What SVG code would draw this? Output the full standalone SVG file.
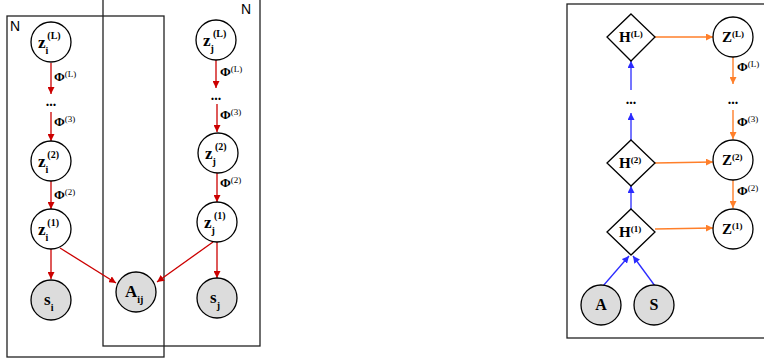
<svg xmlns="http://www.w3.org/2000/svg" width="764" height="362" viewBox="0 0 764 362">
  <style>
    .plate { fill: none; stroke: #222; stroke-width: 1.3; }
    .node { fill: #fff; stroke: #000; stroke-width: 1.3; }
    .obs { fill: #dcdcdc; stroke: #000; stroke-width: 1.3; }
    .lbl { font-family: "Liberation Serif", "DejaVu Serif", serif; font-weight: bold; fill: #000; }
    .plateN { font-family: "Liberation Sans", Arial, sans-serif; font-size: 14px; fill: #000; }
    .red { stroke: #cc0000; stroke-width: 1.3; fill: none; }
    .orange { stroke: #ff7f2a; stroke-width: 1.4; fill: none; }
    .blue { stroke: #2b2bff; stroke-width: 1.3; fill: none; }
    .phi { font-family: "Liberation Serif", "DejaVu Serif", serif; font-size: 13px; font-weight: bold; fill: #000; }
    .sup { font-size: 9px; font-weight: normal; }
    .dots { font-family: "Liberation Serif", serif; font-size: 14px; font-weight: bold; fill: #000; }
  </style>
  <defs>
    <marker id="arR" viewBox="0 0 10 10" refX="10" refY="5" markerWidth="7" markerHeight="7" orient="auto" markerUnits="userSpaceOnUse">
      <path d="M0,0 L10,5 L0,10 z" fill="#cc0000"/>
    </marker>
    <marker id="arO" viewBox="0 0 10 10" refX="10" refY="5" markerWidth="7" markerHeight="7" orient="auto" markerUnits="userSpaceOnUse">
      <path d="M0,0 L10,5 L0,10 z" fill="#ff7f2a"/>
    </marker>
    <marker id="arB" viewBox="0 0 10 10" refX="10" refY="5" markerWidth="7" markerHeight="7" orient="auto" markerUnits="userSpaceOnUse">
      <path d="M0,0 L10,5 L0,10 z" fill="#2b2bff"/>
    </marker>
  </defs>

  <!-- plates -->
  <g id="plate-i">
    <rect class="plate" x="7" y="16" width="157" height="341"/>
    <text class="plateN" x="10" y="31">N</text>
  </g>
  <g id="plate-j">
    <rect class="plate" x="103" y="-2" width="157" height="348"/>
    <text class="plateN" x="241" y="14">N</text>
  </g>
  <g id="plate-right">
    <rect class="plate" x="567" y="4" width="210" height="334"/>
  </g>

  <!-- connectors -->
  <g id="connectors">
    <line class="red" x1="51" y1="63" x2="51" y2="94" marker-end="url(#arR)"/>
    <line class="red" x1="51" y1="112" x2="51" y2="141" marker-end="url(#arR)"/>
    <line class="red" x1="51" y1="181" x2="51" y2="209" marker-end="url(#arR)"/>
    <line class="red" x1="51" y1="249" x2="51" y2="279" marker-end="url(#arR)"/>
    <line class="red" x1="60" y1="248" x2="116" y2="283" marker-end="url(#arR)"/>
    <line class="red" x1="216" y1="60" x2="216" y2="88" marker-end="url(#arR)"/>
    <line class="red" x1="217" y1="104" x2="217" y2="132" marker-end="url(#arR)"/>
    <line class="red" x1="217" y1="173" x2="217" y2="202" marker-end="url(#arR)"/>
    <line class="red" x1="217" y1="242" x2="217" y2="278" marker-end="url(#arR)"/>
    <line class="red" x1="213" y1="242" x2="157" y2="282" marker-end="url(#arR)"/>

    <line class="orange" x1="655" y1="37" x2="713" y2="37" marker-end="url(#arO)"/>
    <line class="orange" x1="733" y1="57" x2="733" y2="84" marker-end="url(#arO)"/>
    <line class="orange" x1="733" y1="110" x2="733" y2="139" marker-end="url(#arO)"/>
    <line class="orange" x1="655" y1="163" x2="713" y2="162" marker-end="url(#arO)"/>
    <line class="orange" x1="733" y1="180" x2="733" y2="208" marker-end="url(#arO)"/>
    <line class="orange" x1="655" y1="229" x2="713" y2="228" marker-end="url(#arO)"/>

    <line class="blue" x1="631" y1="90" x2="631" y2="61" marker-end="url(#arB)"/>
    <line class="blue" x1="631" y1="140" x2="631" y2="113" marker-end="url(#arB)"/>
    <line class="blue" x1="631" y1="209" x2="631" y2="186" marker-end="url(#arB)"/>
    <line class="blue" x1="603" y1="286" x2="629" y2="256" marker-end="url(#arB)" stroke-width="1"/>
    <line class="blue" x1="655" y1="286" x2="633" y2="256" marker-end="url(#arB)" stroke-width="1"/>

    <!-- edge labels -->
    <text class="phi" x="54" y="81">Φ<tspan class="sup" dy="-4">(L)</tspan></text>
    <text class="phi" x="54" y="126">Φ<tspan class="sup" dy="-4">(3)</tspan></text>
    <text class="phi" x="54" y="199">Φ<tspan class="sup" dy="-4">(2)</tspan></text>
    <text class="phi" x="220" y="76">Φ<tspan class="sup" dy="-4">(L)</tspan></text>
    <text class="phi" x="220" y="119">Φ<tspan class="sup" dy="-4">(3)</tspan></text>
    <text class="phi" x="220" y="187">Φ<tspan class="sup" dy="-4">(2)</tspan></text>
    <text class="phi" x="737" y="71">Φ<tspan class="sup" dy="-4">(L)</tspan></text>
    <text class="phi" x="737" y="126">Φ<tspan class="sup" dy="-4">(3)</tspan></text>
    <text class="phi" x="737" y="195">Φ<tspan class="sup" dy="-4">(2)</tspan></text>
    <text class="dots" x="51" y="106" text-anchor="middle">...</text>
    <text class="dots" x="216" y="100" text-anchor="middle">...</text>
    <text class="dots" x="631" y="104" text-anchor="middle">...</text>
    <text class="dots" x="733" y="104" text-anchor="middle">...</text>
  </g>

  <!-- left model nodes -->
  <g id="zi-L">
    <circle class="node" cx="51" cy="42" r="20"/>
    <text class="lbl" font-size="17" x="38" y="48">z<tspan font-size="10" dy="6">i</tspan><tspan font-size="10" dx="-1" dy="-15">(L)</tspan></text>
  </g>
  <g id="zi-2">
    <circle class="node" cx="51" cy="161" r="20"/>
    <text class="lbl" font-size="17" x="38" y="167">z<tspan font-size="10" dy="6">i</tspan><tspan font-size="10" dx="-1" dy="-15">(2)</tspan></text>
  </g>
  <g id="zi-1">
    <circle class="node" cx="51" cy="229" r="20"/>
    <text class="lbl" font-size="17" x="38" y="235">z<tspan font-size="10" dy="6">i</tspan><tspan font-size="10" dx="-1" dy="-15">(1)</tspan></text>
  </g>
  <g id="si">
    <circle class="obs" cx="51" cy="300" r="20"/>
    <text class="lbl" font-size="17" x="44" y="305">s<tspan font-size="10" dy="6">i</tspan></text>
  </g>
  <g id="zj-L">
    <circle class="node" cx="216" cy="40" r="20"/>
    <text class="lbl" font-size="17" x="203" y="46">z<tspan font-size="10" dy="6">j</tspan><tspan font-size="10" dx="-1" dy="-15">(L)</tspan></text>
  </g>
  <g id="zj-2">
    <circle class="node" cx="218" cy="153" r="20"/>
    <text class="lbl" font-size="17" x="205" y="159">z<tspan font-size="10" dy="6">j</tspan><tspan font-size="10" dx="-1" dy="-15">(2)</tspan></text>
  </g>
  <g id="zj-1">
    <circle class="node" cx="217" cy="222" r="20"/>
    <text class="lbl" font-size="17" x="204" y="228">z<tspan font-size="10" dy="6">j</tspan><tspan font-size="10" dx="-1" dy="-15">(1)</tspan></text>
  </g>
  <g id="sj">
    <circle class="obs" cx="217" cy="298" r="20"/>
    <text class="lbl" font-size="17" x="210" y="303">s<tspan font-size="10" dy="6">j</tspan></text>
  </g>
  <g id="Aij">
    <circle class="obs" cx="136" cy="292" r="20"/>
    <text class="lbl" font-size="17" x="125" y="297">A<tspan font-size="10" dy="6">ij</tspan></text>
  </g>

  <!-- right model nodes -->
  <g id="H-L">
    <polygon class="node" points="631,14 655,37 631,61 607,37"/>
    <text class="lbl" font-size="15" x="619" y="42">H<tspan font-size="9" dy="-5">(L)</tspan></text>
  </g>
  <g id="H-2">
    <polygon class="node" points="631,140 655,163 631,186 607,163"/>
    <text class="lbl" font-size="15" x="619" y="168">H<tspan font-size="9" dy="-5">(2)</tspan></text>
  </g>
  <g id="H-1">
    <polygon class="node" points="631,209 655,232 631,255 607,232"/>
    <text class="lbl" font-size="15" x="619" y="237">H<tspan font-size="9" dy="-5">(1)</tspan></text>
  </g>
  <g id="Z-L">
    <circle class="node" cx="733" cy="37" r="20"/>
    <text class="lbl" font-size="15" x="722" y="42">Z<tspan font-size="9" dy="-5">(L)</tspan></text>
  </g>
  <g id="Z-2">
    <circle class="node" cx="733" cy="160" r="20"/>
    <text class="lbl" font-size="15" x="722" y="165">Z<tspan font-size="9" dy="-5">(2)</tspan></text>
  </g>
  <g id="Z-1">
    <circle class="node" cx="733" cy="229" r="20"/>
    <text class="lbl" font-size="15" x="722" y="234">Z<tspan font-size="9" dy="-5">(1)</tspan></text>
  </g>
  <g id="A">
    <circle class="obs" cx="601" cy="305" r="20"/>
    <text class="lbl" font-size="16" x="601" y="310" text-anchor="middle">A</text>
  </g>
  <g id="S">
    <circle class="obs" cx="654" cy="305" r="20"/>
    <text class="lbl" font-size="16" x="654" y="310" text-anchor="middle">S</text>
  </g>
</svg>
